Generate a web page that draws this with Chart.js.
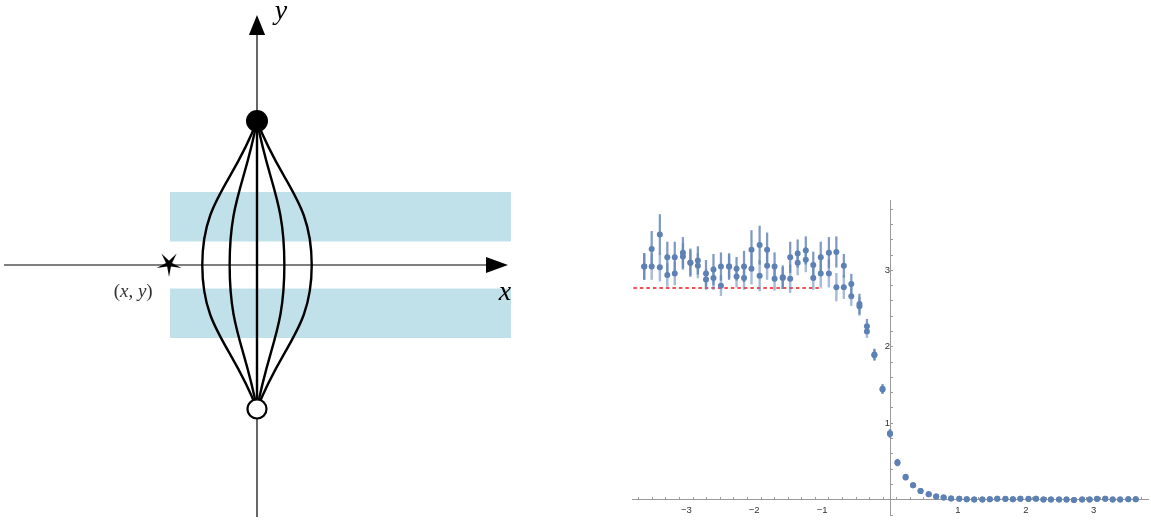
<!DOCTYPE html>
<html><head><meta charset="utf-8">
<script src="https://cdn.jsdelivr.net/npm/chart.js@4.4.1/dist/chart.umd.min.js"></script>
<style>
html,body{margin:0;padding:0;background:#fff;width:1151px;height:523px;overflow:hidden;position:relative;}
#left{position:absolute;left:0;top:0;width:530px;height:523px;}
#right{position:absolute;left:600px;top:180px;width:570px;height:355px;}
</style></head><body>
<div id="left"><canvas id="c1"></canvas></div>
<div id="right"><canvas id="c2"></canvas></div>
<script>
// ================= RIGHT PANEL DATA =================
const xValues = [-3.62,-3.51,-3.39,-3.28,-3.17,-3.05,-2.94,-2.83,-2.71,-2.60,-2.49,-2.37,-2.26,-2.15,-2.04,-1.92,-1.81,-1.70,-1.58,-1.47,-1.36,-1.24,-1.13,-1.02,-0.90,-0.79,-0.68,-0.57,-0.45,-0.34,-0.23,-0.11,0,
  0.11,0.23,0.34,0.45,0.57,0.68,0.79,0.90,1.02,1.13,1.24,1.36,1.47,1.58,1.70,1.81,1.92,2.04,2.15,2.26,2.37,2.49,2.60,2.71,2.83,2.94,3.05,3.17,3.28,3.39,3.51,3.62];
const seriesA = [3.05,3.28,3.47,3.17,3.17,3.23,3.10,3.13,2.96,3.01,3.05,3.05,3.02,3.05,3.27,3.33,3.27,3.05,2.91,3.17,3.22,3.26,3.07,3.17,3.23,3.24,3.06,2.82,2.56,2.27,1.90,1.45,0.87,
  0.49,0.30,0.19,0.115,0.072,0.042,0.029,0.016,0.012,0.007,0.002,0.002,0.007,0.011,0.011,0.007,0.011,0.011,0.011,0.002,0.002,0.002,0.002,-0.004,0.002,0.002,0.011,0.011,0.002,0.002,0.007,0.007];
const seriesB = [3.05,3.05,3.04,2.94,2.96,3.18,3.10,3.06,2.88,2.90,2.80,3.05,2.92,2.90,3.02,2.93,3.06,2.89,2.90,2.89,3.10,3.14,2.90,2.96,2.96,2.78,2.78,2.66,2.53,2.20,1.89,1.44,0.86,
  0.48,0.29,0.19,0.113,0.070,0.042,0.028,0.016,0.011,0.007,0.002,0.002,0.007,0.011,0.010,0.007,0.011,0.010,0.011,0.002,0.002,0.002,0.002,-0.003,0.002,0.002,0.010,0.011,0.002,0.002,0.007,0.007];
const errA = [0.17,0.23,0.26,0.20,0.20,0.20,0.18,0.18,0.17,0.20,0.18,0.17,0.15,0.20,0.25,0.25,0.22,0.18,0.15,0.20,0.18,0.18,0.17,0.20,0.20,0.20,0.15,0.13,0.13,0.09,0.07,0.06,0.05,
  0.04,0.03,0.02,0.015,0.012,0.01,0.01,0.01,0.01,0.01,0.01,0.01,0.01,0.01,0.01,0.01,0.01,0.01,0.01,0.01,0.01,0.01,0.01,0.01,0.01,0.01,0.01,0.01,0.01,0.01,0.01,0.01];
const errB = [0.17,0.17,0.18,0.15,0.15,0.17,0.16,0.16,0.13,0.15,0.13,0.15,0.14,0.15,0.20,0.20,0.18,0.15,0.14,0.18,0.16,0.16,0.15,0.18,0.18,0.18,0.15,0.12,0.12,0.08,0.07,0.05,0.05,
  0.04,0.03,0.02,0.015,0.012,0.01,0.01,0.01,0.01,0.01,0.01,0.01,0.01,0.01,0.01,0.01,0.01,0.01,0.01,0.01,0.01,0.01,0.01,0.01,0.01,0.01,0.01,0.01,0.01,0.01,0.01,0.01];
const refLevel = [2.77, 2.77];
const refRange = [-3.78, -1.0];
const xMajorTicks = [-3,-2,-1,1,2,3];
const yMajorTicks = [1,2,3];

// ================= LEFT DIAGRAM DATA (units: distance pole-to-origin = 1) =================
const horizontalAxis = [[-1.757,0],[1.62,0]];
const verticalAxis = [[0,-1.75],[0,1.62]];
const xArrowHead = {tip:[1.743,0], base:1.59, half:0.056};
const yArrowHead = {tip:[0,1.736], base:1.597, half:0.056};
const bands = [[-0.604,1.764,0.163,0.507],[-0.604,1.764,-0.507,-0.163]];
const curveBulges = [-0.38,-0.19,0,0.19,0.38];
const topPole = [0,1];
const bottomPole = [0,-1];
const starPoint = [-0.611,0];

const BLUE = '#5E81B5';

// ---------- right chart ----------
const ptsA = xValues.map((x,i)=>({x, y:seriesA[i]}));
const ptsB = xValues.map((x,i)=>({x, y:seriesB[i]}));
const barsA = xValues.map((x,i)=>({x, y:[seriesA[i]-errA[i], seriesA[i]+errA[i]]}));
const barsB = xValues.map((x,i)=>({x, y:[seriesB[i]-errB[i], seriesB[i]+errB[i]]}));
const isInt = v => Math.abs(v-Math.round(v))<1e-6;
const fmt = v => (v<0?'\u2212':'') + Math.abs(Math.round(v));

new Chart(document.getElementById('c2'), {
  type:'scatter',
  data:{datasets:[
    {type:'scatter', data:ptsA, pointRadius:3, pointBackgroundColor:BLUE, pointBorderWidth:0, order:0},
    {type:'scatter', data:ptsB, pointRadius:3, pointBackgroundColor:BLUE, pointBorderWidth:0, order:0},
    {type:'bar', data:barsA, backgroundColor:'rgba(94,129,181,0.8)', barThickness:1.6, grouped:false, borderWidth:0, order:1},
    {type:'bar', data:barsB, backgroundColor:'rgba(94,129,181,0.55)', barThickness:1.8, grouped:false, borderWidth:0, order:1},
    {type:'line', data:refRange.map((x,i)=>({x, y:refLevel[i]})), borderColor:'#f01818', borderWidth:1.5, borderDash:[3.5,3], pointRadius:0, order:2}
  ]},
  options:{
    animation:false, responsive:true, maintainAspectRatio:false,
    layout:{padding:{left:32,right:22,top:20,bottom:20}, autoPadding:false},
    plugins:{legend:{display:false}, tooltip:{enabled:false}},
    scales:{
      x:{type:'linear', position:{y:0}, min:-3.8, max:3.8, offset:false,
        grid:{drawOnChartArea:false, drawTicks:true, tickLength:-3, color:'#9a9a9a'},
        border:{display:true, color:'#9a9a9a', width:1},
        ticks:{stepSize:0.2, autoSkip:false, maxRotation:0, includeBounds:false, padding:8, color:'#333',
          font:{size:9.5, family:'Liberation Sans'},
          callback:v => (isInt(v) && xMajorTicks.includes(Math.round(v))) ? fmt(v) : ''}},
      y:{type:'linear', position:{x:0}, min:-0.2, max:3.92,
        grid:{drawOnChartArea:false, drawTicks:true, tickLength:-3, color:'#9a9a9a'},
        border:{display:true, color:'#9a9a9a', width:1},
        ticks:{stepSize:0.2, autoSkip:false, includeBounds:false, padding:8, color:'#333',
          font:{size:9.5, family:'Liberation Sans'},
          callback:v => (isInt(v) && yMajorTicks.includes(Math.round(v))) ? fmt(v) : ''}}
    }
  }
});

// ---------- left diagram ----------
const starImg = (function(){
  const c = document.createElement('canvas'); c.width = 28; c.height = 28;
  const g = c.getContext('2d'); g.fillStyle = '#000'; g.beginPath();
  for (let k=0;k<10;k++){
    const a = Math.PI/2 + k*Math.PI/5; const r = k%2===0 ? 13 : 3.2;
    const px = 14 + r*Math.cos(a), py = 13 + r*Math.sin(a);
    k===0 ? g.moveTo(px,py) : g.lineTo(px,py);
  }
  g.closePath(); g.fill(); return c;
})();

const P = a => ({x:a[0], y:a[1]});
const leftSets = [];
leftSets.push({type:'scatter', data:[P(topPole)], pointRadius:11, pointBackgroundColor:'#000', pointBorderWidth:0, order:0});
leftSets.push({type:'scatter', data:[P(bottomPole)], pointRadius:9.5, pointBackgroundColor:'#fff', pointBorderColor:'#000', pointBorderWidth:2.2, order:0});
leftSets.push({type:'scatter', data:[P(starPoint)], pointStyle:starImg, order:1});
curveBulges.forEach(w => leftSets.push({type:'line', data:[P(topPole),{x:w,y:0},P(bottomPole)], borderColor:'#000', borderWidth:2.4, tension:0.45, pointRadius:0, fill:false, order:2}));
leftSets.push({type:'line', data:horizontalAxis.map(P), borderColor:'#000', borderWidth:1.2, pointRadius:0, fill:false, order:3});
leftSets.push({type:'line', data:verticalAxis.map(P), borderColor:'#000', borderWidth:1.2, pointRadius:0, fill:false, order:3});
leftSets.push({type:'line', data:[{x:-yArrowHead.half,y:yArrowHead.base},P(yArrowHead.tip),{x:yArrowHead.half,y:yArrowHead.base}], borderWidth:0, pointRadius:0, tension:0, backgroundColor:'#000', fill:{value:yArrowHead.base}, order:3});
leftSets.push({type:'line', data:[{x:xArrowHead.base,y:xArrowHead.half},P(xArrowHead.tip)], borderWidth:0, pointRadius:0, tension:0, backgroundColor:'#000', fill:{value:0}, order:3});
leftSets.push({type:'line', data:[{x:xArrowHead.base,y:-xArrowHead.half},P(xArrowHead.tip)], borderWidth:0, pointRadius:0, tension:0, backgroundColor:'#000', fill:{value:0}, order:3});
bands.forEach(b => leftSets.push({type:'line', data:[{x:b[0],y:b[3]},{x:b[1],y:b[3]}], borderWidth:0, pointRadius:0, backgroundColor:'#c1e1ea', fill:{value:b[2]}, order:5}));

const diagramLabels = [
  {parts:[['(',false],['x',true],[', ',false],['y',true],[')',false]], at:[-0.86,-0.19], size:19, color:'#333'},
  {parts:[['y',true]], at:[0.167,1.757], size:28, color:'#000'},
  {parts:[['x',true]], at:[1.722,-0.194], size:28, color:'#000'}
];
const labelPlugin = {
  id:'diagramLabels',
  afterDatasetsDraw(chart){
    const ctx = chart.ctx, sx = chart.scales.x, sy = chart.scales.y;
    ctx.save(); ctx.textBaseline = 'middle'; ctx.textAlign = 'left';
    diagramLabels.forEach(l => {
      const font = it => (it?'italic ':'') + l.size + 'px "Liberation Serif", "DejaVu Serif", serif';
      let total = 0;
      l.parts.forEach(p => { ctx.font = font(p[1]); total += ctx.measureText(p[0]).width; });
      let x = sx.getPixelForValue(l.at[0]) - total/2; const y = sy.getPixelForValue(l.at[1]);
      ctx.fillStyle = l.color;
      l.parts.forEach(p => { ctx.font = font(p[1]); ctx.fillText(p[0], x, y); x += ctx.measureText(p[0]).width; });
    });
    ctx.restore();
  }
};

new Chart(document.getElementById('c1'), {
  type:'scatter',
  data:{datasets:leftSets},
  options:{
    animation:false, responsive:true, maintainAspectRatio:false,
    layout:{padding:0, autoPadding:false},
    plugins:{legend:{display:false}, tooltip:{enabled:false}},
    scales:{
      x:{type:'linear', display:false, min:-257/144, max:273/144},
      y:{type:'linear', display:false, min:-258/144, max:265/144}
    }
  },
  plugins:[labelPlugin]
});
</script>
</body></html>
